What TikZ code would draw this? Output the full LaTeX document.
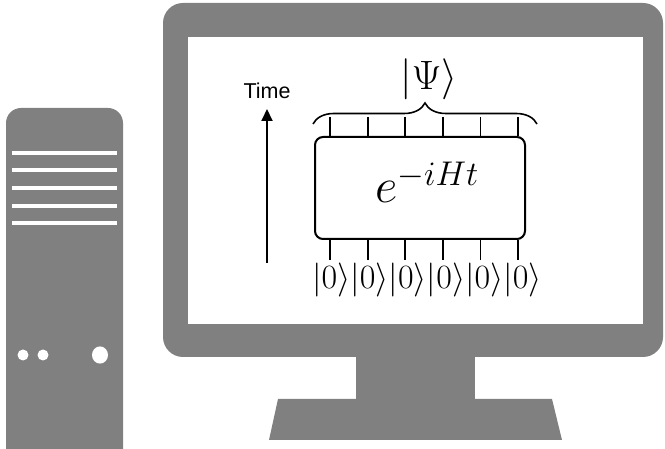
\RequirePackage{fix-cm}
\documentclass[tikz,border=0pt]{standalone}
\usepackage{fontspec}
\newfontfamily\labelfont{Liberation Sans}
\usetikzlibrary{arrows.meta,decorations.pathreplacing}
\definecolor{device}{HTML}{808080}
\tikzset{
  devicefill/.style={fill=device,draw=none},
  slot/.style={draw=white,line width=4pt},
  led/.style={fill=white,draw=none},
  wire/.style={draw=black,line width=1.8pt},
  gatebox/.style={draw=black,line width=2pt,rounded corners=8pt,
    minimum width=210pt,minimum height=102pt,inner sep=0pt},
  ket/.style={inner sep=0pt,font=\fontsize{34}{40}\selectfont},
}
\begin{document}
\begin{tikzpicture}[x=1pt,y=-1pt]
  \useasboundingbox (0,0) rectangle (665,449);
  \clip (0,0) rectangle (665,449);

  % tower case
  \fill[device] (6,449) -- (6,123) arc[start angle=180,end angle=270,radius=15]
    -- (108,108) arc[start angle=270,end angle=360,radius=15] -- (123,449) -- cycle;
  \foreach \y in {153,170.5,188,206,223.3}
    \draw[slot] (12,\y) -- (117,\y);
  \fill[led] (23,355) circle[radius=5.5];
  \fill[led] (43,355) circle[radius=5.5];
  \fill[led] (100,355) ellipse[x radius=8,y radius=8.6];

  % monitor
  \fill[device,rounded corners=20pt] (163,3) rectangle (663,357);
  \fill[white] (188,37) rectangle (643,324);
  \fill[device] (356,350) rectangle (475,400);
  \fill[device] (278,399) -- (552,399) -- (562,440) -- (269,440) -- cycle;

  % time axis
  \coordinate (tlow) at (267,263);
  \coordinate (thigh) at (267,109);
  \draw[line width=2pt,-{Triangle[width=11pt,length=12pt]}] (tlow) -- (thigh);
  \node[font=\labelfont\fontsize{21.5}{26}\selectfont] (time) at (267,90.5) {Time};

  % evolution gate
  \node[gatebox] (U) at (420,188) {};
  \node[anchor=base,inner sep=0pt,font=\fontsize{49}{56}\selectfont] (expo) at (427,203) {$e^{-iHt}$};

  % qubit wires, input register and output brace
  \foreach \i in {1,...,6} {
    \pgfmathsetmacro{\xx}{330+(\i-1)*37.6}
    \coordinate (top\i) at (\xx,117);
    \coordinate (bot\i) at (\xx,260);
    \draw[wire] (top\i) -- (top\i |- U.north);
    \draw[wire] (U.south -| bot\i) -- (bot\i);
  }
  \node[ket,anchor=base] (inputs) at (427,289)
    {$|0\rangle|0\rangle|0\rangle|0\rangle|0\rangle|0\rangle$};
  \coordinate (bl) at (313,124);
  \coordinate (br) at (537,124);
  \draw[line width=1.6pt,decorate,decoration={brace,amplitude=21pt}] (bl) -- (br);
  \node[inner sep=0pt,font=\fontsize{41}{48}\selectfont] (psi) at (429,79.5)
    {$\bigl|\Psi\bigr\rangle$};
\end{tikzpicture}
\end{document}
